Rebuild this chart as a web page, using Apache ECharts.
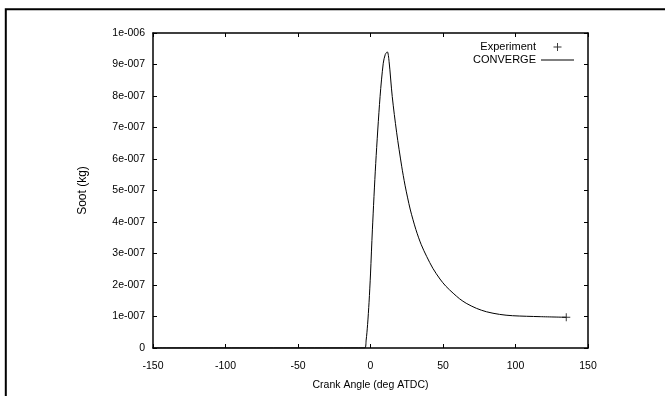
<!DOCTYPE html>
<html>
<head>
<meta charset="utf-8">
<script src="https://cdn.jsdelivr.net/npm/echarts@6/dist/echarts.min.js"></script>
<style>
  html, body { margin: 0; padding: 0; background: #fff; }
  #chart { width: 665px; height: 396px; }
</style>
</head>
<body>
<div id="chart"></div>
<script>
// crank angle (deg ATDC) and soot mass (kg)
const crankAngle = [-150, -10, -4, -3, -2, -1, 0, 1.3, 3.6, 6.6, 8.8, 10.2, 11.6, 12.8, 15, 18, 21.5, 23.8, 25.5, 27.5, 31.3, 35, 38.8, 43, 47.9, 52, 57, 61.5, 66, 73, 80, 89, 98, 117, 135];
const sootConverge = [0, 0, 0, 0.25e-7, 0.75e-7, 1.45e-7, 2.35e-7, 3.75e-7, 5.86e-7, 7.98e-7, 9.04e-7, 9.32e-7, 9.4e-7, 9.1e-7, 7.98e-7, 6.85e-7, 5.77e-7, 5.17e-7, 4.79e-7, 4.38e-7, 3.76e-7, 3.28e-7, 2.9e-7, 2.53e-7, 2.19e-7, 1.96e-7, 1.74e-7, 1.56e-7, 1.42e-7, 1.26e-7, 1.15e-7, 1.067e-7, 1.025e-7, 0.995e-7, 0.975e-7];
const expAngle = [135];
const expSoot = [0.975e-7];

const xTickLabels = ['-150', '-100', '-50', '0', '50', '100', '150'];
const yTickLabels = ['0', '1e-007', '2e-007', '3e-007', '4e-007', '5e-007', '6e-007', '7e-007', '8e-007', '9e-007', '1e-006'];

const font = 'Liberation Sans, Arial, sans-serif';
const plusPath = 'path://M4.4,0H5.6V4.4H10V5.6H5.6V10H4.4V5.6H0V4.4H4.4Z';
const linePath = 'path://M0,0H33V1H0Z';

const chart = echarts.init(document.getElementById('chart'));

const axisLine = { show: true, onZero: false, lineStyle: { color: '#000', width: 1.5 } };
const tick = { show: true, inside: true, length: 4, lineStyle: { color: '#000', width: 1 } };

chart.setOption({
  animation: false,
  backgroundColor: '#fff',
  textStyle: { fontFamily: font },
  graphic: [{
    type: 'polyline',
    silent: true,
    shape: { points: [[5.8, 396], [5.8, 9.2], [665, 9.2]] },
    style: { stroke: '#000', lineWidth: 2, fill: null }
  }],
  grid: { left: 153, top: 33, right: 77, bottom: 48 },
  legend: [
    {
      data: [{ name: 'Experiment' }],
      right: 103.5, top: 41.5, padding: 0,
      align: 'right', itemWidth: 33, itemHeight: 8, itemGap: 0,
      textStyle: { fontSize: 11, color: '#000', fontFamily: font }
    },
    {
      data: [{ name: 'CONVERGE', icon: linePath }],
      right: 91, top: 54.5, padding: 0,
      align: 'right', itemWidth: 33, itemHeight: 8, itemGap: 0,
      textStyle: { fontSize: 11, color: '#000', fontFamily: font }
    }
  ],
  xAxis: [
    {
      type: 'value', min: -150, max: 150, interval: 50,
      name: 'Crank Angle (deg ATDC)', nameLocation: 'middle', nameGap: 32,
      nameTextStyle: { fontSize: 10.5, color: '#000', fontFamily: font },
      axisLine: axisLine, axisTick: tick, splitLine: { show: false },
      axisLabel: {
        fontSize: 10.5, color: '#000', margin: 13, fontFamily: font,
        formatter: function (v) { return xTickLabels[Math.round((v + 150) / 50)]; }
      }
    },
    {
      type: 'value', min: -150, max: 150, interval: 50, position: 'top',
      axisLine: axisLine, axisTick: tick, splitLine: { show: false },
      axisLabel: { show: false }
    }
  ],
  yAxis: [
    {
      type: 'value', min: 0, max: 1e-6, interval: 1e-7,
      name: 'Soot (kg)', nameLocation: 'middle', nameGap: 64,
      nameTextStyle: { fontSize: 12, color: '#000', fontFamily: font },
      axisLine: axisLine, axisTick: tick, splitLine: { show: false },
      axisLabel: {
        fontSize: 10.5, color: '#000', margin: 8, fontFamily: font,
        formatter: function (v) { return yTickLabels[Math.round(v / 1e-7)]; }
      }
    },
    {
      type: 'value', min: 0, max: 1e-6, interval: 1e-7, position: 'right',
      axisLine: axisLine, axisTick: tick, splitLine: { show: false },
      axisLabel: { show: false }
    }
  ],
  series: [
    {
      name: 'Experiment',
      type: 'scatter',
      symbol: plusPath,
      symbolSize: 8,
      symbolKeepAspect: true,
      itemStyle: { color: '#000' },
      data: expAngle.map((a, i) => [a, expSoot[i]]),
      z: 3
    },
    {
      name: 'CONVERGE',
      type: 'line',
      symbol: 'none',
      smooth: 0.3,
      lineStyle: { color: '#000', width: 1 },
      itemStyle: { color: '#000' },
      data: crankAngle.map((a, i) => [a, sootConverge[i]]),
      z: 2
    }
  ]
});
</script>
</body>
</html>
